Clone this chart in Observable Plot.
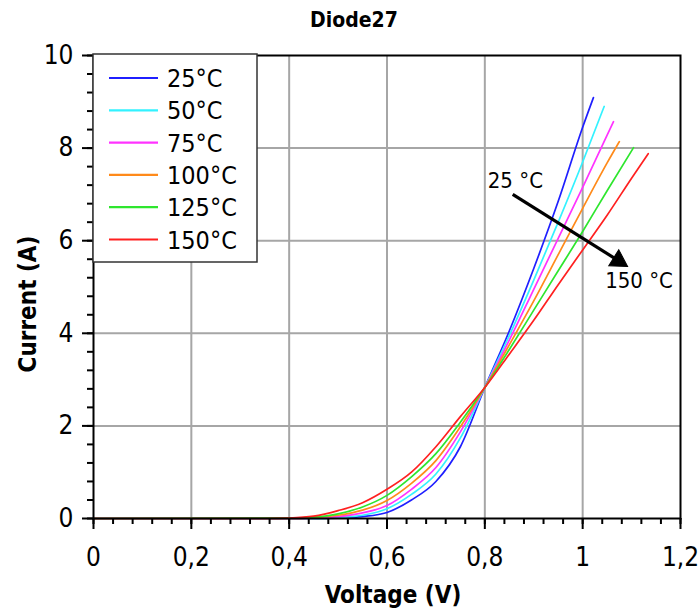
<!DOCTYPE html>
<html>
<head>
<meta charset="utf-8">
<script src="https://cdn.jsdelivr.net/npm/d3@7"></script>
<script src="https://cdn.jsdelivr.net/npm/@observablehq/plot@0.6"></script>
<style>
  body { margin: 0; background: #fff; }
  #chart svg { display: block; }
</style>
</head>
<body>
<div id="chart"></div>
<script>
// ---- Data ----
const title = "Diode27";
const xLabel = "Voltage (V)";
const yLabel = "Current (A)";
const temps = ["25°C", "50°C", "75°C", "100°C", "125°C", "150°C"];
const colors = ["#1f1fff", "#33f2ff", "#ff33ff", "#ff8a1a", "#2ee62e", "#ff2020"];

const volt25  = [0, 0.45, 0.50, 0.55, 0.60, 0.65, 0.70, 0.75, 0.80, 0.85, 0.90, 0.95, 1.00, 1.022];
const curr25  = [0, 0, 0.01, 0.04, 0.13, 0.40, 0.80, 1.55, 2.83, 4.05, 5.40, 6.85, 8.45, 9.09];
const volt50  = [0, 0.45, 0.50, 0.55, 0.60, 0.65, 0.70, 0.75, 0.80, 0.85, 0.90, 0.95, 1.00, 1.044];
const curr50  = [0, 0, 0.02, 0.07, 0.21, 0.52, 0.96, 1.74, 2.83, 3.95, 5.15, 6.40, 7.70, 8.90];
const volt75  = [0, 0.40, 0.45, 0.50, 0.55, 0.60, 0.65, 0.70, 0.75, 0.80, 0.85, 0.90, 0.95, 1.00, 1.05, 1.063];
const curr75  = [0, 0, 0.01, 0.04, 0.12, 0.28, 0.63, 1.10, 1.87, 2.83, 3.85, 4.95, 6.05, 7.15, 8.28, 8.57];
const volt100 = [0, 0.40, 0.45, 0.50, 0.55, 0.60, 0.65, 0.70, 0.75, 0.80, 0.85, 0.90, 0.95, 1.00, 1.05, 1.075];
const curr100 = [0, 0, 0.02, 0.07, 0.18, 0.39, 0.76, 1.25, 1.98, 2.83, 3.75, 4.70, 5.70, 6.70, 7.68, 8.14];
const volt125 = [0, 0.40, 0.45, 0.50, 0.55, 0.60, 0.65, 0.70, 0.75, 0.80, 0.85, 0.90, 0.95, 1.00, 1.05, 1.104];
const curr125 = [0, 0.01, 0.03, 0.10, 0.25, 0.50, 0.90, 1.40, 2.08, 2.83, 3.65, 4.50, 5.35, 6.20, 7.08, 8.01];
const volt150 = [0, 0.35, 0.40, 0.45, 0.50, 0.55, 0.60, 0.65, 0.70, 0.75, 0.80, 0.85, 0.90, 0.95, 1.00, 1.05, 1.10, 1.134];
const curr150 = [0, 0, 0.01, 0.05, 0.17, 0.34, 0.63, 1.00, 1.55, 2.20, 2.83, 3.55, 4.28, 5.05, 5.80, 6.55, 7.35, 7.88];

const xTicks = [0, 0.2, 0.4, 0.6, 0.8, 1, 1.2];
const xTickLabels = ["0", "0,2", "0,4", "0,6", "0,8", "1", "1,2"];
const yTicks = [0, 2, 4, 6, 8, 10];
const yTickLabels = ["0", "2", "4", "6", "8", "10"];

// annotation
const annotLabels = ["25 °C", "150 °C"];
const annotX = [0.806, 1.046];
const annotY = [7.28, 5.14];
const arrowX1 = [0.857], arrowY1 = [7.0];
const arrowX2 = [1.073], arrowY2 = [5.57];

// ---- Build table ----
const voltSeries = [volt25, volt50, volt75, volt100, volt125, volt150];
const currSeries = [curr25, curr50, curr75, curr100, curr125, curr150];
const rows = temps.flatMap((t, k) => voltSeries[k].map((v, j) => ({V: v, I: currSeries[k][j], T: t})));

const xMinor = d3.range(0, 31).map(i => +(i * 0.04).toFixed(2));
const yMinor = d3.range(0, 26).map(i => +(i * 0.4).toFixed(1));

const font = "'DejaVu Sans Condensed', 'DejaVu Sans', sans-serif";
const gridStyle = {stroke: "#a6a6a6", strokeOpacity: 1, strokeWidth: 2};

const plot = Plot.plot({
  width: 700,
  height: 610,
  marginTop: 55,
  marginBottom: 92,
  marginLeft: 93,
  marginRight: 20,
  style: {fontFamily: font, fontSize: "26px", background: "white", color: "black"},
  x: {domain: [0, 1.2]},
  y: {domain: [0, 10]},
  color: {domain: temps, range: colors},
  marks: [
    Plot.gridX(xTicks.slice(1, -1), gridStyle),
    Plot.gridY(yTicks.slice(1, -1), gridStyle),
    Plot.line(rows, {x: "V", y: "I", z: "T", stroke: "T", strokeWidth: 1.7, curve: "monotone-x"}),
    Plot.frame({stroke: "black", strokeWidth: 2}),
    Plot.axisX(xMinor, {tickSize: 6, tickFormat: () => "", label: null, strokeWidth: 2}),
    Plot.axisY(yMinor, {tickSize: 6, tickFormat: () => "", label: null, strokeWidth: 2}),
    Plot.axisX(xTicks, {tickSize: 11, tickPadding: 18, tickFormat: d => xTickLabels[xTicks.indexOf(d)], label: null, fontSize: 26, strokeWidth: 2}),
    Plot.axisY(yTicks, {tickSize: 11, tickPadding: 9, tickFormat: d => yTickLabels[yTicks.indexOf(d)], label: null, fontSize: 26, strokeWidth: 2}),
    Plot.link([0], {x1: arrowX1, y1: arrowY1, x2: arrowX2, y2: arrowY2, stroke: "black", strokeWidth: 3.2}),
    Plot.dot([0], {x: arrowX2, y: arrowY2, symbol: "triangle", r: 7, rotate: 122, fill: "black", stroke: "black", strokeWidth: 1}),
    Plot.text(annotLabels, {x: annotX, y: annotY, text: d => d, textAnchor: "start", fontSize: 22, fill: "black"}),
    Plot.text([title], {frameAnchor: "top", lineAnchor: "middle", dx: -33, dy: -35, fontSize: 21, fontWeight: "bold", fill: "black"}),
    Plot.text([xLabel], {frameAnchor: "bottom", lineAnchor: "middle", dx: 6, dy: 77, fontSize: 24, fontWeight: "bold", fill: "black"}),
    Plot.text([yLabel], {frameAnchor: "left", textAnchor: "middle", lineAnchor: "middle", dx: -65, dy: 17, rotate: -90, fontSize: 24, fontWeight: "bold", fill: "black"})
  ]
});

// ---- Legend (drawn onto the plot's SVG) ----
const svg = d3.select(plot);
const lg = svg.append("g").attr("font-family", font).attr("text-anchor", "start");
lg.append("rect")
  .attr("x", 93).attr("y", 54).attr("width", 164).attr("height", 208)
  .attr("fill", "white").attr("stroke", "#333").attr("stroke-width", 1.5);
temps.forEach((t, k) => {
  const y = 78 + k * 32.3;
  lg.append("line").attr("x1", 109).attr("x2", 158).attr("y1", y).attr("y2", y)
    .attr("stroke", colors[k]).attr("stroke-width", 2.2);
  lg.append("text").attr("x", 167).attr("y", y).attr("dy", "0.36em")
    .attr("text-anchor", "start").attr("font-size", 25).attr("fill", "black").text(t);
});

document.getElementById("chart").appendChild(plot);
</script>
</body>
</html>
